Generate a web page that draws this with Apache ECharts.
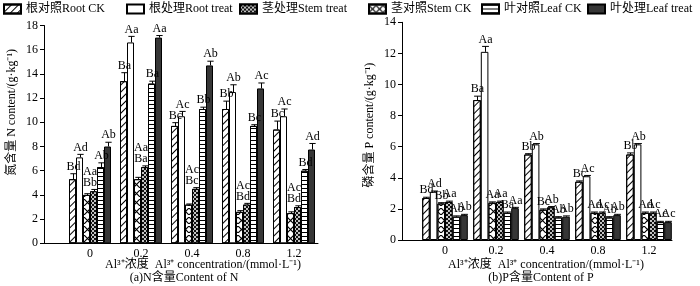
<!DOCTYPE html>
<html>
<head>
<meta charset="utf-8">
<script src="https://cdn.jsdelivr.net/npm/echarts@6/dist/echarts.min.js"></script>
<style>
html, body { margin: 0; padding: 0; background: #fff; }
#chart { width: 700px; height: 286px; }
</style>
</head>
<body>
<div id="chart"></div>
<script>
var categories = ["0", "0.2", "0.4", "0.8", "1.2"];
var seriesNames = ["根对照Root CK", "根处理Root treat", "茎对照Stem CK", "茎处理Stem treat", "叶对照Leaf CK", "叶处理Leaf treat"];

// (a) N含量
var nRootCK = [5.3, 13.4, 9.7, 11.1, 9.4];
var nRootTreat = [7.1, 16.6, 10.5, 12.5, 10.5];
var nStemCK = [4.0, 5.3, 3.2, 2.6, 2.5];
var nStemTreat = [4.3, 6.3, 4.5, 3.2, 3.0];
var nLeafCK = [6.3, 13.2, 11.1, 9.7, 6.0];
var nLeafTreat = [8.0, 17.0, 14.7, 12.8, 7.75];

var nRootCKErr = [0.45, 0.7, 0.27, 0.65, 0.7];
var nRootTreatErr = [0.25, 0.5, 0.4, 0.6, 0.6];
var nStemCKErr = [0.1, 0.15, 0.05, 0.1, 0.1];
var nStemTreatErr = [0.15, 0.1, 0.1, 0.1, 0.1];
var nLeafCKErr = [0.35, 0.2, 0.15, 0.1, 0.1];
var nLeafTreatErr = [0.35, 0.17, 0.35, 0.45, 0.5];

var nRootCKMark = ["Bd", "Ba", "Bc", "Bb", "Bc"];
var nRootTreatMark = ["Ad", "Aa", "Ac", "Ab", "Ac"];
var nStemCKMark = ["Aa", "Aa", "Ac", "Ac", "Ac"];
var nStemTreatMark = ["Bb", "Ba", "Bc", "Bd", "Bd"];
var nLeafCKMark = ["Ab", "Ba", "Bb", "Bc", "Bd"];
var nLeafTreatMark = ["Ab", "Aa", "Ab", "Ac", "Ad"];

// (b) P含量
var pRootCK = [2.7, 9.0, 5.5, 3.75, 5.5];
var pRootTreat = [3.1, 12.1, 6.15, 4.1, 6.15];
var pStemCK = [2.35, 2.4, 1.95, 1.75, 1.75];
var pStemTreat = [2.45, 2.45, 2.1, 1.75, 1.75];
var pLeafCK = [1.5, 1.75, 1.45, 1.45, 1.15];
var pLeafTreat = [1.6, 2.05, 1.5, 1.6, 1.15];

var pRootCKErr = [0.05, 0.25, 0.05, 0.05, 0.1];
var pRootTreatErr = [0.05, 0.35, 0.05, 0.05, 0.05];
var pStemCKErr = [0.05, 0.05, 0.05, 0.05, 0.05];
var pStemTreatErr = [0.05, 0.05, 0.05, 0.05, 0.05];
var pLeafCKErr = [0.05, 0.05, 0.05, 0.05, 0.05];
var pLeafTreatErr = [0.05, 0.05, 0.05, 0.05, 0.05];

var pRootCKMark = ["Bd", "Ba", "Bb", "Bc", "Bb"];
var pRootTreatMark = ["Ad", "Aa", "Ab", "Ac", "Ab"];
var pStemCKMark = ["Bb", "Aa", "Bc", "Ad", "Ad"];
var pStemTreatMark = ["Aa", "Aa", "Ab", "Ac", "Ac"];
var pLeafCKMark = ["Ab", "Ba", "Ab", "Ab", "Ac"];
var pLeafTreatMark = ["Ab", "Aa", "Ab", "Ab", "Ac"];

var FONT = '"Liberation Serif", "Noto Sans CJK SC", serif';

// fill patterns, same order as seriesNames
var barStyles = [
  { color: "#fff", borderColor: "#000", borderWidth: 1,
    decal: { symbol: "rect", symbolSize: 1, color: "#000", dashArrayX: [1, 0], dashArrayY: [1, 3.2], rotation: -Math.PI / 4 } },
  { color: "#fff", borderColor: "#000", borderWidth: 1 },
  { color: "#fff", borderColor: "#000", borderWidth: 1,
    decal: { symbol: "path://M0,0L1.2,0L10,8.8L10,10L8.8,10L0,1.2Z M10,0L10,1.2L1.2,10L0,10L0,8.8L8.8,0Z", symbolSize: 1, color: "#000", dashArrayX: [7, 0], dashArrayY: [9, 0] } },
  { color: "#111", borderColor: "#000", borderWidth: 1,
    decal: { symbol: "circle", symbolSize: 1, color: "#fff", dashArrayX: [[2, 2], [0, 2, 2, 0]], dashArrayY: [2, 0] } },
  { color: "#fff", borderColor: "#000", borderWidth: 1,
    decal: { symbol: "rect", symbolSize: 1, color: "#000", dashArrayX: [1, 0], dashArrayY: [1, 2.3] } },
  { color: "#363636", borderColor: "#000", borderWidth: 1 }
];
// legend order and x positions of the items
var legendOrder = [0, 1, 3, 2, 4, 5];
var legendLeft = [3, 126, 239, 368, 481, 587];

function makeBar(k, vals, ax, barW) {
  return {
    name: seriesNames[k],
    type: "bar",
    xAxisIndex: ax,
    yAxisIndex: ax,
    barWidth: barW,
    barGap: "0%",
    data: vals,
    itemStyle: barStyles[k]
  };
}

// error bar + letter marks; anchor lets a label sit on top of another series
function makeErr(k, vals, errs, marks, ax, barW, anchor) {
  return {
    type: "custom",
    xAxisIndex: ax,
    yAxisIndex: ax,
    z: 5,
    silent: true,
    data: vals.map(function (v, i) { return [i, v, errs[i]]; }),
    renderItem: function (params, api) {
      var i = params.dataIndex;
      var base = api.coord([i, api.value(1)]);
      var top = api.coord([i, api.value(1) + api.value(2)]);
      var x = Math.round(base[0] + (k - 2.5) * barW) + 0.5;
      var cap = barW * 0.45;
      var lx = x, ly = top[1] - 1;
      if (anchor) {
        var t = api.coord([i, anchor.vals[i] + anchor.errs[i]]);
        lx = base[0] + anchor.dx * barW;
        ly = t[1] - 1 - anchor.lift;
      }
      return {
        type: "group",
        children: [
          { type: "line", shape: { x1: x, y1: base[1], x2: x, y2: top[1] }, style: { stroke: "#000", lineWidth: 1 } },
          { type: "line", shape: { x1: x - cap, y1: top[1], x2: x + cap, y2: top[1] }, style: { stroke: "#000", lineWidth: 1 } },
          { type: "text", x: lx, y: ly, style: { text: marks[i], fill: "#000", font: "12px " + FONT, align: "center", verticalAlign: "bottom" } }
        ]
      };
    }
  };
}

function valueAxis(grid, max, name, pad) {
  return {
    gridIndex: grid, type: "value", min: 0, max: max, interval: 2,
    name: name, nameLocation: "middle", nameGap: 26,
    nameTextStyle: { color: "#000", fontSize: 12, fontFamily: FONT, padding: [0, 0, 0, pad] },
    axisLine: { show: true, lineStyle: { color: "#000" } },
    axisTick: { show: true, length: 4, lineStyle: { color: "#000" } },
    axisLabel: { color: "#000", fontSize: 12, fontFamily: FONT, margin: 6 },
    splitLine: { show: false }
  };
}

function frameXAxis(grid) {
  return {
    gridIndex: grid, type: "value", min: 0, max: 1,
    axisLine: { show: true, onZero: false, lineStyle: { color: "#000" } },
    axisTick: { show: false }, axisLabel: { show: false }, splitLine: { show: false }
  };
}

function catAxis(grid) {
  return {
    gridIndex: grid, type: "category", data: categories,
    axisLine: { show: false }, axisTick: { show: false },
    axisLabel: { color: "#000", fontSize: 12, fontFamily: FONT, margin: 5 }
  };
}

function hiddenY(grid, max) {
  return { gridIndex: grid, type: "value", min: 0, max: max, show: false };
}

var wN = 7, wP = 7.6;
var nVals = [nRootCK, nRootTreat, nStemCK, nStemTreat, nLeafCK, nLeafTreat];
var nErrs = [nRootCKErr, nRootTreatErr, nStemCKErr, nStemTreatErr, nLeafCKErr, nLeafTreatErr];
var nMarks = [nRootCKMark, nRootTreatMark, nStemCKMark, nStemTreatMark, nLeafCKMark, nLeafTreatMark];
var pVals = [pRootCK, pRootTreat, pStemCK, pStemTreat, pLeafCK, pLeafTreat];
var pErrs = [pRootCKErr, pRootTreatErr, pStemCKErr, pStemTreatErr, pLeafCKErr, pLeafTreatErr];
var pMarks = [pRootCKMark, pRootTreatMark, pStemCKMark, pStemTreatMark, pLeafCKMark, pLeafTreatMark];

var series = [];
for (var k = 0; k < 6; k++) {
  series.push(makeBar(k, nVals[k], 1, wN));
  series.push(makeBar(k, pVals[k], 3, wP));
}
// left chart: both stem marks stacked over the stem pair
var stemAnchor = { vals: nStemTreat, errs: nStemTreatErr, dx: 0 };
for (var k = 0; k < 6; k++) {
  var anchor = null;
  if (k === 2) anchor = Object.assign({ lift: 11 }, stemAnchor);
  if (k === 3) anchor = Object.assign({ lift: 0 }, stemAnchor);
  series.push(makeErr(k, nVals[k], nErrs[k], nMarks[k], 1, wN, anchor));
  series.push(makeErr(k, pVals[k], pErrs[k], pMarks[k], 3, wP, null));
}

var legends = legendOrder.map(function (k, j) {
  return {
    data: [seriesNames[k]], left: legendLeft[j], top: 3, padding: 0,
    itemWidth: 17, itemHeight: 9, selectedMode: false, icon: "rect",
    textStyle: { color: "#000", fontSize: 12, fontFamily: FONT }
  };
});

var chart = echarts.init(document.getElementById("chart"));
var titleText = { color: "#000", fontSize: 12, fontWeight: "normal", fontFamily: FONT };

chart.setOption({
  animation: false,
  backgroundColor: "#fff",
  legend: legends,
  title: [
    { text: "Al³⁺浓度  Al³⁺ concentration/(mmol·L⁻¹)", left: 203, top: 259, padding: 0, textAlign: "center", textStyle: titleText },
    { text: "(a)N含量Content of N", left: 184, top: 272, padding: 0, textAlign: "center", textStyle: titleText },
    { text: "Al³⁺浓度  Al³⁺ concentration/(mmol·L⁻¹)", left: 546, top: 259, padding: 0, textAlign: "center", textStyle: titleText },
    { text: "(b)P含量Content of P", left: 541, top: 272, padding: 0, textAlign: "center", textStyle: titleText }
  ],
  grid: [
    { left: 44, top: 25.5, width: 274, height: 217.8 },
    { left: 64.5, top: 25.5, width: 255, height: 217.8 },
    { left: 402, top: 22.3, width: 270, height: 217.7 },
    { left: 419.5, top: 22.3, width: 255, height: 217.7 }
  ],
  xAxis: [frameXAxis(0), catAxis(1), frameXAxis(2), catAxis(3)],
  yAxis: [
    valueAxis(0, 18, "氮含量 N content/(g·kg⁻¹)", 44),
    hiddenY(1, 18),
    valueAxis(2, 14, "磷含量 P content/(g·kg⁻¹)", 12),
    hiddenY(3, 14)
  ],
  series: series
});
</script>
</body>
</html>
